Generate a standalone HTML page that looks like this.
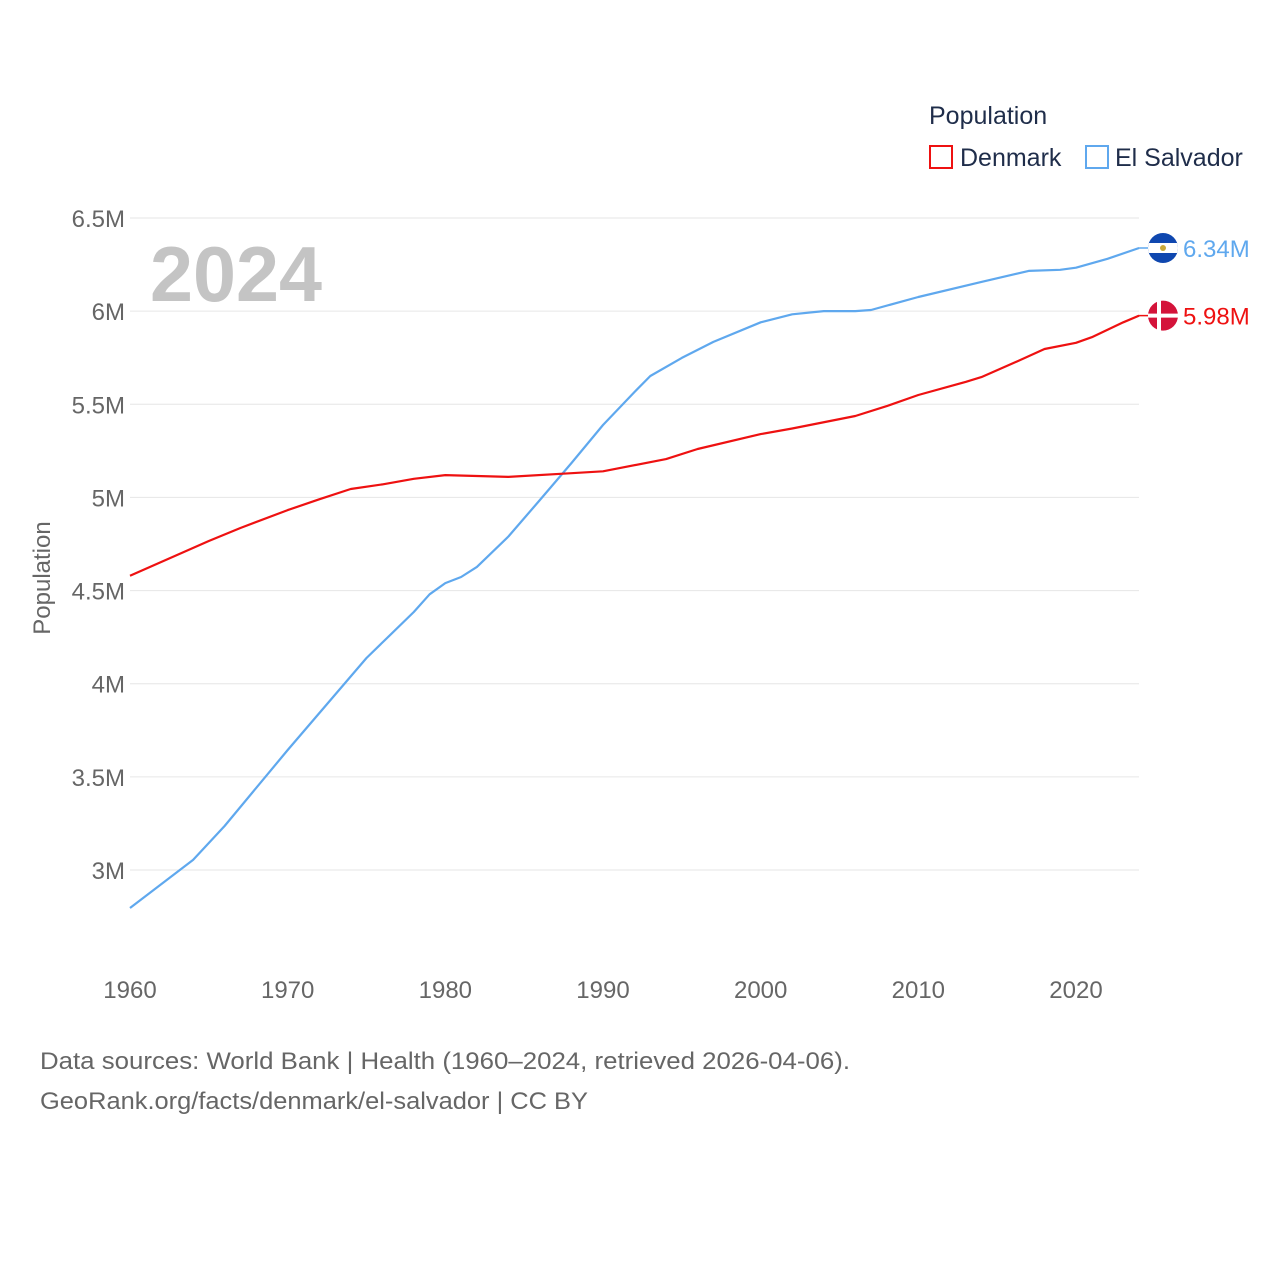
<!DOCTYPE html>
<html><head><meta charset="utf-8">
<style>
html,body{margin:0;padding:0;background:#fff;}
body{width:1280px;height:1280px;overflow:hidden;font-family:"Liberation Sans",sans-serif;}
svg text{font-family:"Liberation Sans",sans-serif;}
</style></head>
<body>
<svg id="chart" width="1280" height="1280" viewBox="0 0 1280 1280">
  <g id="grid"></g>
  <g id="yaxis"></g>
  <g id="xaxis"></g>
  <text x="236" y="301" text-anchor="middle" font-size="78" font-weight="bold" fill="#c4c4c4" textLength="172" lengthAdjust="spacingAndGlyphs">2024</text>
  <text transform="translate(50,578) rotate(-90)" text-anchor="middle" font-size="24" fill="#666">Population</text>
  <g id="series"></g>
  <g>
    <text x="929" y="124" font-size="25" fill="#1f2d4a">Population</text>
    <g>
      <rect x="930" y="146" width="22" height="22" fill="none" stroke="#ee1111" stroke-width="2"/>
      <text x="960" y="166" font-size="25" fill="#1f2d4a">Denmark</text>
    </g>
    <g>
      <rect x="1086" y="146" width="22" height="22" fill="none" stroke="#5fa8ee" stroke-width="2"/>
      <text x="1115" y="166" font-size="25" fill="#1f2d4a">El Salvador</text>
    </g>
  </g>
  <text x="40" y="1069" font-size="24" fill="#666" textLength="810" lengthAdjust="spacingAndGlyphs">Data sources: World Bank | Health (1960–2024, retrieved 2026-04-06).</text>
  <text x="40" y="1109" font-size="24" fill="#666" textLength="548" lengthAdjust="spacingAndGlyphs">GeoRank.org/facts/denmark/el-salvador | CC BY</text>
</svg>
<script>
const yTicks = [3, 3.5, 4, 4.5, 5, 5.5, 6, 6.5];
const yTickLabels = ["3M","3.5M","4M","4.5M","5M","5.5M","6M","6.5M"];
const xTicks = [1960,1970,1980,1990,2000,2010,2020];
const dkYears = [1960,1965,1967,1970,1972,1974,1976,1978,1980,1984,1988,1990,1994,1996,2000,2002,2006,2008,2010,2013,2014,2016,2018,2020,2021,2023,2024];
const dkValues = [4.58,4.766,4.836,4.932,4.99,5.045,5.07,5.10,5.12,5.11,5.13,5.14,5.206,5.26,5.34,5.37,5.437,5.49,5.55,5.62,5.646,5.72,5.797,5.83,5.86,5.94,5.976];
const svYears = [1960,1964,1966,1970,1975,1978,1979,1980,1981,1982,1984,1986,1988,1990,1992,1993,1995,1997,2000,2002,2004,2006,2007,2010,2014,2017,2019,2020,2022,2024];
const svValues = [2.796,3.054,3.236,3.644,4.138,4.385,4.48,4.54,4.573,4.627,4.79,4.986,5.185,5.389,5.566,5.652,5.749,5.835,5.94,5.983,6.0,6.0,6.006,6.076,6.157,6.216,6.222,6.233,6.281,6.339];
const NS='http://www.w3.org/2000/svg';
function x(v){return 130+(v-1960)*(1076-130)/60;}
function y(v){return 870-(v-3)*(652/3.5);}
function mk(tag,attrs,parent){const e=document.createElementNS(NS,tag);for(const k in attrs)e.setAttribute(k,attrs[k]);parent.appendChild(e);return e;}
const grid=document.getElementById('grid'),ya=document.getElementById('yaxis'),xa=document.getElementById('xaxis'),se=document.getElementById('series');
yTicks.forEach((t,i)=>{
  const l=mk('line',{x1:130,x2:1139,y1:y(t),y2:y(t),stroke:'#e6e6e6','stroke-width':1},grid);
  
  
  const tx=mk('text',{x:125,y:y(t)+9,'text-anchor':'end','font-size':24,fill:'#666'},ya);
  tx.textContent=yTickLabels[i];
  
  
});
xTicks.forEach(t=>{
  const tx=mk('text',{x:x(t),y:998,'text-anchor':'middle','font-size':24,fill:'#666'},xa);
  tx.textContent=t;
  
  
});
function line(years,vals,color,name){
  const d=years.map((yr,i)=>(i?'L':'M')+x(yr).toFixed(1)+','+y(vals[i]).toFixed(1)).join(' ');
  const p=mk('path',{d:d,fill:'none',stroke:color,'stroke-width':2.2,'stroke-linejoin':'round'},se);
  
  
  const lx=x(years[years.length-1]),ly=y(vals[vals.length-1]);
  mk('line',{x1:lx,x2:lx+10,y1:ly,y2:ly,stroke:color,'stroke-width':1.5},se);
  const lab=mk('text',{x:1183,y:ly+9,'font-size':24,fill:color},se);
  lab.textContent=vals[vals.length-1].toFixed(2)+'M';
  
  
  return ly;
}
const svy=line(svYears,svValues,'#5fa8ee','el-salvador');
const dky=line(dkYears,dkValues,'#ee1111','denmark');
const f1=mk('g',{},se);


mk('clipPath',{id:'c1'},f1).appendChild(document.createElementNS(NS,'circle'));
const c1=document.querySelector('#c1 circle');c1.setAttribute('cx',1163);c1.setAttribute('cy',svy);c1.setAttribute('r',15);
mk('rect',{x:1148,y:svy-15,width:30,height:30,fill:'#0f47af','clip-path':'url(#c1)'},f1);
mk('rect',{x:1148,y:svy-5,width:30,height:10,fill:'#fff','clip-path':'url(#c1)'},f1);
mk('circle',{cx:1163,cy:svy,r:3,fill:'#c9a93a'},f1);
const f2=mk('g',{},se);


mk('circle',{cx:1163,cy:dky,r:15,fill:'#d4133a'},f2);
mk('rect',{x:1157,y:dky-15,width:4,height:30,fill:'#fff'},f2);
mk('rect',{x:1148,y:dky-2,width:30,height:4,fill:'#fff'},f2);
</script>
</body></html>
